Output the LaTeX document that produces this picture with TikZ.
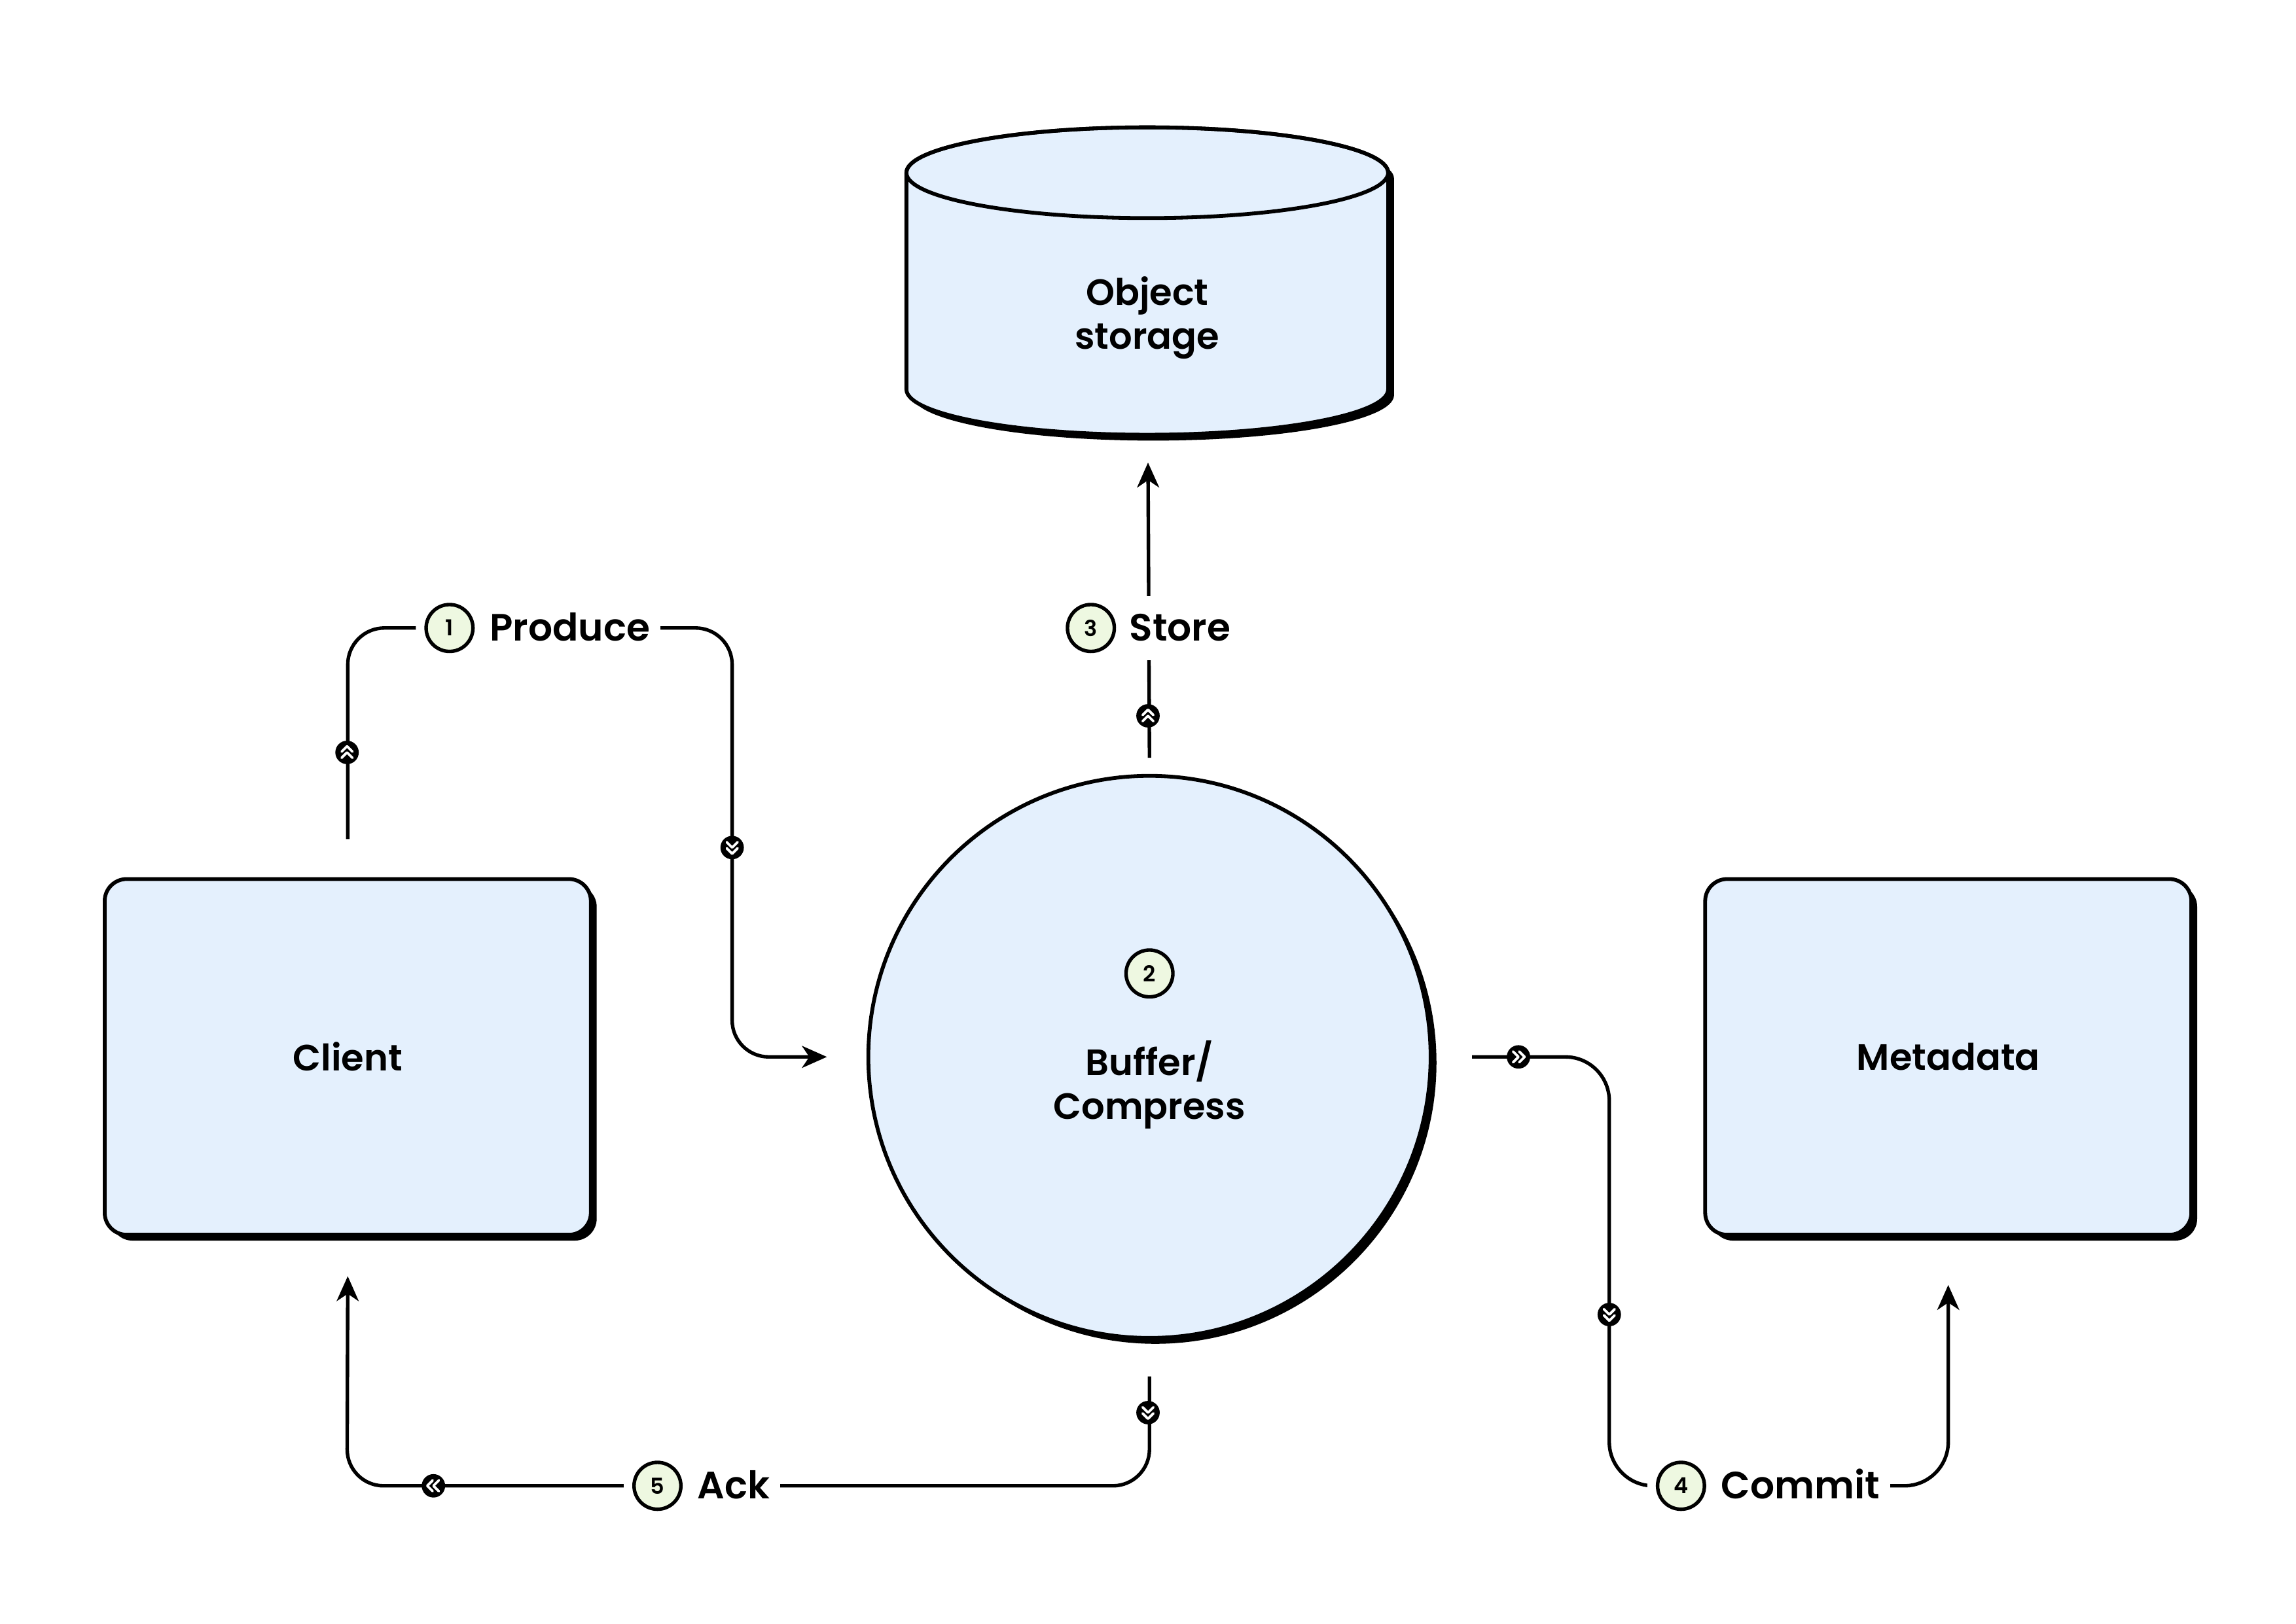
\documentclass[tikz,border=0pt]{standalone}
\usepackage{fontspec}
\setmainfont{Poppins}[BoldFont={Poppins SemiBold}]
\usetikzlibrary{positioning,arrows.meta,shadows}
\definecolor{boxblue}{HTML}{E4F0FD}
\definecolor{badgegreen}{HTML}{EEF8E1}

\begin{document}
\begin{tikzpicture}[x=1pt, y=1pt,
  dropshade/.style={drop shadow={shadow xshift=4pt, shadow yshift=-4pt, fill=black, opacity=1}},
  box/.style={draw, line width=2.6pt, fill=boxblue, rounded corners=15pt, minimum width=332pt, minimum height=243pt, font=\fontsize{25}{30}\selectfont\bfseries, dropshade},
  conn/.style={line width=2.4pt, rounded corners=25pt},
  tip/.style={-{Stealth[length=17pt, width=15pt, inset=5pt]}},
  badge/.style={circle, draw, line width=2.4pt, fill=badgegreen, minimum size=32pt, inner sep=0pt, font=\fontsize{15}{15}\selectfont\bfseries},
  linebadge/.style={badge, preaction={draw=white, line width=14pt}},
  steptext/.style={fill=white, inner xsep=7pt, inner ysep=13pt, text height=18pt, text depth=0pt, font=\fontsize{26}{30}\selectfont\bfseries},
  chevdot/.pic={\fill (0,0) circle (8);
    \draw[white, line width=1.7pt, line cap=round, line join=round] (-3.7,3.7) -- (0,0) -- (3.7,3.7) (-3.7,-0.5) -- (0,-4.2) -- (3.7,-0.5);}
]
\useasboundingbox (0,0) rectangle (1568,1109);

% boxes
\node[box] (client) at (237.5,387) {Client};
\node[box] (meta) at (1330.5,387) {Metadata};
\node[circle, draw, line width=2.6pt, fill=boxblue, minimum size=384pt, dropshade] (buf) at (785,387) {};
\node[badge] (b2) at (785,444) {2};
\node[align=center, font=\fontsize{25}{30}\selectfont\bfseries] (buftext) at (785,368) {Buffer/\\Compress};

% object storage
\fill[shift={(4,-4)}] (619,991) -- (619,843) arc[start angle=180, end angle=360, x radius=164.5, y radius=31] -- (948,991) arc[start angle=0, end angle=180, x radius=164.5, y radius=31] -- cycle;
\draw[line width=2.6pt, fill=boxblue] (619,991) -- (619,843) arc[start angle=180, end angle=360, x radius=164.5, y radius=31] -- (948,991) arc[start angle=0, end angle=180, x radius=164.5, y radius=31] -- cycle;
\draw[line width=2.6pt] (783.5,991) ellipse[x radius=164.5, y radius=31];
\node[align=center, font=\fontsize{25}{30}\selectfont\bfseries] (objstore) at (783.5,892) {Object\\storage};
\coordinate (cylbot) at (784,812);

% connectors
\draw[conn, tip] ([yshift=26pt]client.north) |- (500,680) |- ([xshift=-27pt]buf.west);
\draw[conn, tip] ([yshift=11pt]buf.north) -- ([yshift=-19pt]cylbot);
\draw[conn, rounded corners=30pt, tip] ([xshift=27pt]buf.east) -| (1099,94) -| ([yshift=-33pt]meta.south);
\draw[conn, tip] ([yshift=-25pt]buf.south) |- (237,94) -- ([yshift=-27pt]client.south);

% labels
\node[linebadge] (b1) at (307,680) {1};
\node[steptext, right=3pt of b1] (produce) {Produce};
\node[linebadge] (b3) at (745,680) {3};
\node[steptext, right=2pt of b3] (store) {Store};
\node[linebadge] (b4) at (1148,94) {4};
\node[steptext, right=3pt of b4] (commit) {Commit};
\node[linebadge] (b5) at (449,94) {5};
\node[steptext, right=3pt of b5] (ack) {Ack};

% markers
\pic[rotate=180] at (237,595) {chevdot};
\pic at (500,530) {chevdot};
\pic[rotate=180] at (784,620) {chevdot};
\pic[rotate=90] at (1037,387) {chevdot};
\pic at (1099,211) {chevdot};
\pic at (784,144) {chevdot};
\pic[rotate=-90] at (296,94) {chevdot};
\end{tikzpicture}
\end{document}
